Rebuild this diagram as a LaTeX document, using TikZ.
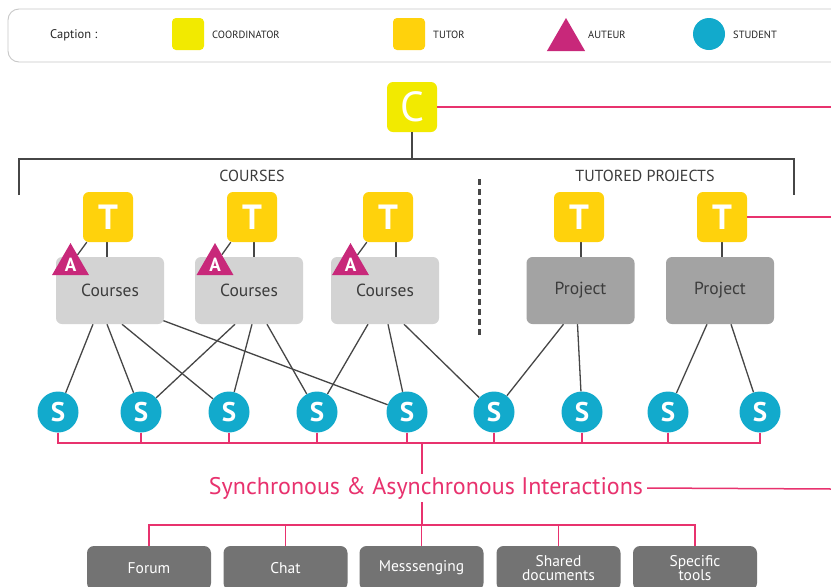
\documentclass[tikz,border=0pt]{standalone}
\usepackage{fontspec}
\setmainfont{PT Sans}
\usetikzlibrary{shapes.geometric,backgrounds}
\definecolor{coordc}{RGB}{242,234,0}
\definecolor{tutorc}{RGB}{255,210,12}
\definecolor{autc}{RGB}{200,40,122}
\definecolor{studc}{RGB}{18,170,204}
\definecolor{pinkc}{RGB}{232,50,110}
\definecolor{lightboxc}{RGB}{211,211,211}
\definecolor{projboxc}{RGB}{163,163,163}
\definecolor{toolboxc}{RGB}{115,115,115}
\definecolor{linec}{RGB}{70,70,70}
\definecolor{txtc}{RGB}{60,60,60}
\definecolor{framec}{RGB}{200,200,200}
\begin{document}
\begin{tikzpicture}[x=1pt,y=-1pt,
  coordbox/.style={fill=coordc, rounded corners=6pt, minimum size=50pt, inner sep=0pt, text=white, font=\fontsize{42}{42}\selectfont},
  tutorbox/.style={fill=tutorc, rounded corners=6pt, minimum size=50pt, inner sep=0pt, text=white, font=\bfseries\fontsize{35}{35}\selectfont},
  authtri/.style={regular polygon, regular polygon sides=3, fill=autc, minimum size=42.7pt, inner sep=0pt, text=white, font=\bfseries\fontsize{19}{19}\selectfont},
  studcirc/.style={circle, fill=studc, minimum size=41pt, inner sep=0pt, text=white, font=\bfseries\fontsize{27}{27}\selectfont},
  coursebox/.style={fill=lightboxc, rounded corners=6pt, minimum width=108pt, minimum height=67pt, inner sep=0pt, text=txtc, font=\fontsize{17.5}{17.5}\selectfont},
  projectbox/.style={coursebox, fill=projboxc},
  toolbox/.style={fill=toolboxc, rounded corners=7pt, minimum width=124pt, minimum height=44pt, inner sep=0pt, text=white, font=\fontsize{15.5}{14.5}\selectfont, align=center},
  legsq/.style={rounded corners=4pt, minimum size=32pt, inner sep=0pt},
  legtxt/.style={anchor=west, text=black!85, font=\fontsize{10.5}{11}\selectfont, inner sep=0pt},
  headtxt/.style={text=txtc, font=\fontsize{16}{16}\selectfont},
  link/.style={draw=linec, line width=1.3pt},
  plink/.style={draw=pinkc, line width=1.5pt},
  sep/.style={draw=linec, line width=3pt, dash pattern=on 6pt off 4pt}
]
\useasboundingbox (0,0) rectangle (831,587);
\clip (0,0) rectangle (831,587);

% caption frame
\draw[framec, line width=0.9pt, rounded corners=11pt] (8,9) rectangle (860,62);
\node[legtxt, font=\fontsize{12.5}{12.5}\selectfont] (capt) at (50,35) {Caption :};
\node[legsq, fill=coordc] (lc) at (188,34) {};
\node[legtxt] (lct) at (212,35) {COORDINATOR};
\node[legsq, fill=tutorc] (lt) at (409,34) {};
\node[legtxt] (ltt) at (433,35) {TUTOR};
\node[regular polygon, regular polygon sides=3, fill=autc, minimum size=44pt, inner sep=0pt] (la) at (566,40) {};
\node[legtxt] (lat) at (588,35) {AUTEUR};
\node[circle, fill=studc, minimum size=32pt, inner sep=0pt] (ls) at (709,34) {};
\node[legtxt] (lst) at (733,35) {STUDENT};

% coordinator
\node[coordbox] (c) at (412,107) {C};
\coordinate (redgeA) at (831,107);
\draw[plink] (c.east) -- (redgeA);

% bracket
\coordinate (brL) at (19,159);
\coordinate (brR) at (794,159);
\coordinate (brLb) at (19,195);
\coordinate (brRb) at (794,195);
\draw[link] (c.south) -- (c.south |- brL);
\draw[link] (brLb) -- (brL) -- (brR) -- (brRb);
\node[headtxt] (hc) at (252,176) {COURSES};
\node[headtxt] (hp) at (645,176) {TUTORED PROJECTS};
\coordinate (dtop) at (479,179);
\coordinate (dbot) at (479,338);
\draw[sep] (dtop) -- (dbot);

% tutors
\node[tutorbox] (t1) at (108,217) {T};
\node[tutorbox] (t2) at (252,217) {T};
\node[tutorbox] (t3) at (388,217) {T};
\node[tutorbox] (t4) at (579,217) {T};
\node[tutorbox] (t5) at (722,217) {T};
\coordinate (redgeB) at (831,217);
\draw[plink] (t5.east) -- (redgeB);

% courses and projects
\node[coursebox] (c1) at (110,290.5) {Courses};
\node[coursebox] (c2) at (249,290.5) {Courses};
\node[coursebox] (c3) at (385,290.5) {Courses};
\node[projectbox] (p1) at (580.5,290.5) {Project};
\node[projectbox] (p2) at (720,290.5) {Project};

% authors
\node[authtri] (a1) at (70.5,264.4) {A};
\node[authtri] (a2) at (215,264.4) {A};
\node[authtri] (a3) at (350.5,264.4) {A};

% students
\foreach \n/\x in {1/58,2/141,3/229,4/317,5/407,6/494,7/582,8/668,9/760}{
  \node[studcirc] (s\n) at (\x,412) {S};
}

\begin{scope}[on background layer]
  \fill[white] (0,0) rectangle (831,587);
  % tutor to course / project
  \draw[link] ([xshift=-1pt]t1.south) -- ([xshift=-1pt]t1.south |- c1.north);
  \draw[link] ([xshift=2pt]t2.south) -- ([xshift=2pt]t2.south |- c2.north);
  \draw[link] ([xshift=8pt]t3.south) -- ([xshift=8pt]t3.south |- c3.north);
  \draw[link] ([xshift=2pt]t4.south) -- ([xshift=2pt]t4.south |- p1.north);
  \draw[link] (t5.south) -- (t5.south |- p2.north);
  % tutor to author
  \draw[link] ([xshift=4pt]t1.south west) -- (a1);
  \draw[link] ([xshift=4pt]t2.south west) -- (a2);
  \draw[link] ([xshift=4pt]t3.south west) -- (a3);
  % courses to students
  \draw[link] ([xshift=-17pt]c1.south) -- (s1);
  \draw[link] ([xshift=-3pt]c1.south) -- (s2);
  \draw[link] ([xshift=12pt]c1.south) -- (s3);
  \draw[link] ([shift={(-2pt,4pt)}]c1.south east) -- (s5);
  \draw[link] ([xshift=-14pt]c2.south) -- (s2);
  \draw[link] ([xshift=3pt]c2.south) -- (s3);
  \draw[link] ([xshift=18pt]c2.south) -- (s4);
  \draw[link] ([xshift=-17pt]c3.south) -- (s4);
  \draw[link] ([xshift=3pt]c3.south) -- (s5);
  \draw[link] ([xshift=19pt]c3.south) -- (s6);
  \draw[link] ([xshift=-17pt]p1.south) -- (s6);
  \draw[link] ([xshift=-3pt]p1.south) -- (s7);
  \draw[link] ([xshift=-13pt]p2.south) -- (s8);
  \draw[link] ([xshift=11pt]p2.south) -- (s9);
\end{scope}

% student bus
\coordinate (bj) at (422,443);
\draw[plink] (s1.south) -- (s1.south |- bj) -- (s9.south |- bj) -- (s9.south);
\foreach \n in {2,...,8}{
  \draw[plink] (s\n.south) -- (s\n.south |- bj);
}

% interactions
\node[text=pinkc, font=\fontsize{24}{24}\selectfont, inner xsep=4pt, inner ysep=3pt] (sync) at (426,488) {Synchronous \& Asynchronous Interactions};
\draw[plink] (bj) -- (bj |- sync.north);
\coordinate (redgeC) at (831,489);
\draw[plink] (sync.east) -- (redgeC);

% tools
\node[toolbox] (f1) at (149,568) {Forum};
\node[toolbox] (f2) at (285.5,568) {Chat};
\node[toolbox] (f3) at (421.5,568) {Messsenging};
\node[toolbox] (f4) at (558.5,568) {Shared\\documents};
\node[toolbox] (f5) at (695,568) {Specific\\tools};
\coordinate (tj) at (422,525);
\draw[plink] (sync.south -| tj) -- (tj);
\draw[plink] (f1.north) -- (f1.north |- tj) -- (f5.north |- tj) -- (f5.north);
\foreach \n in {2,3,4}{
  \draw[plink] (f\n.north) -- (f\n.north |- tj);
}
\end{tikzpicture}
\end{document}
